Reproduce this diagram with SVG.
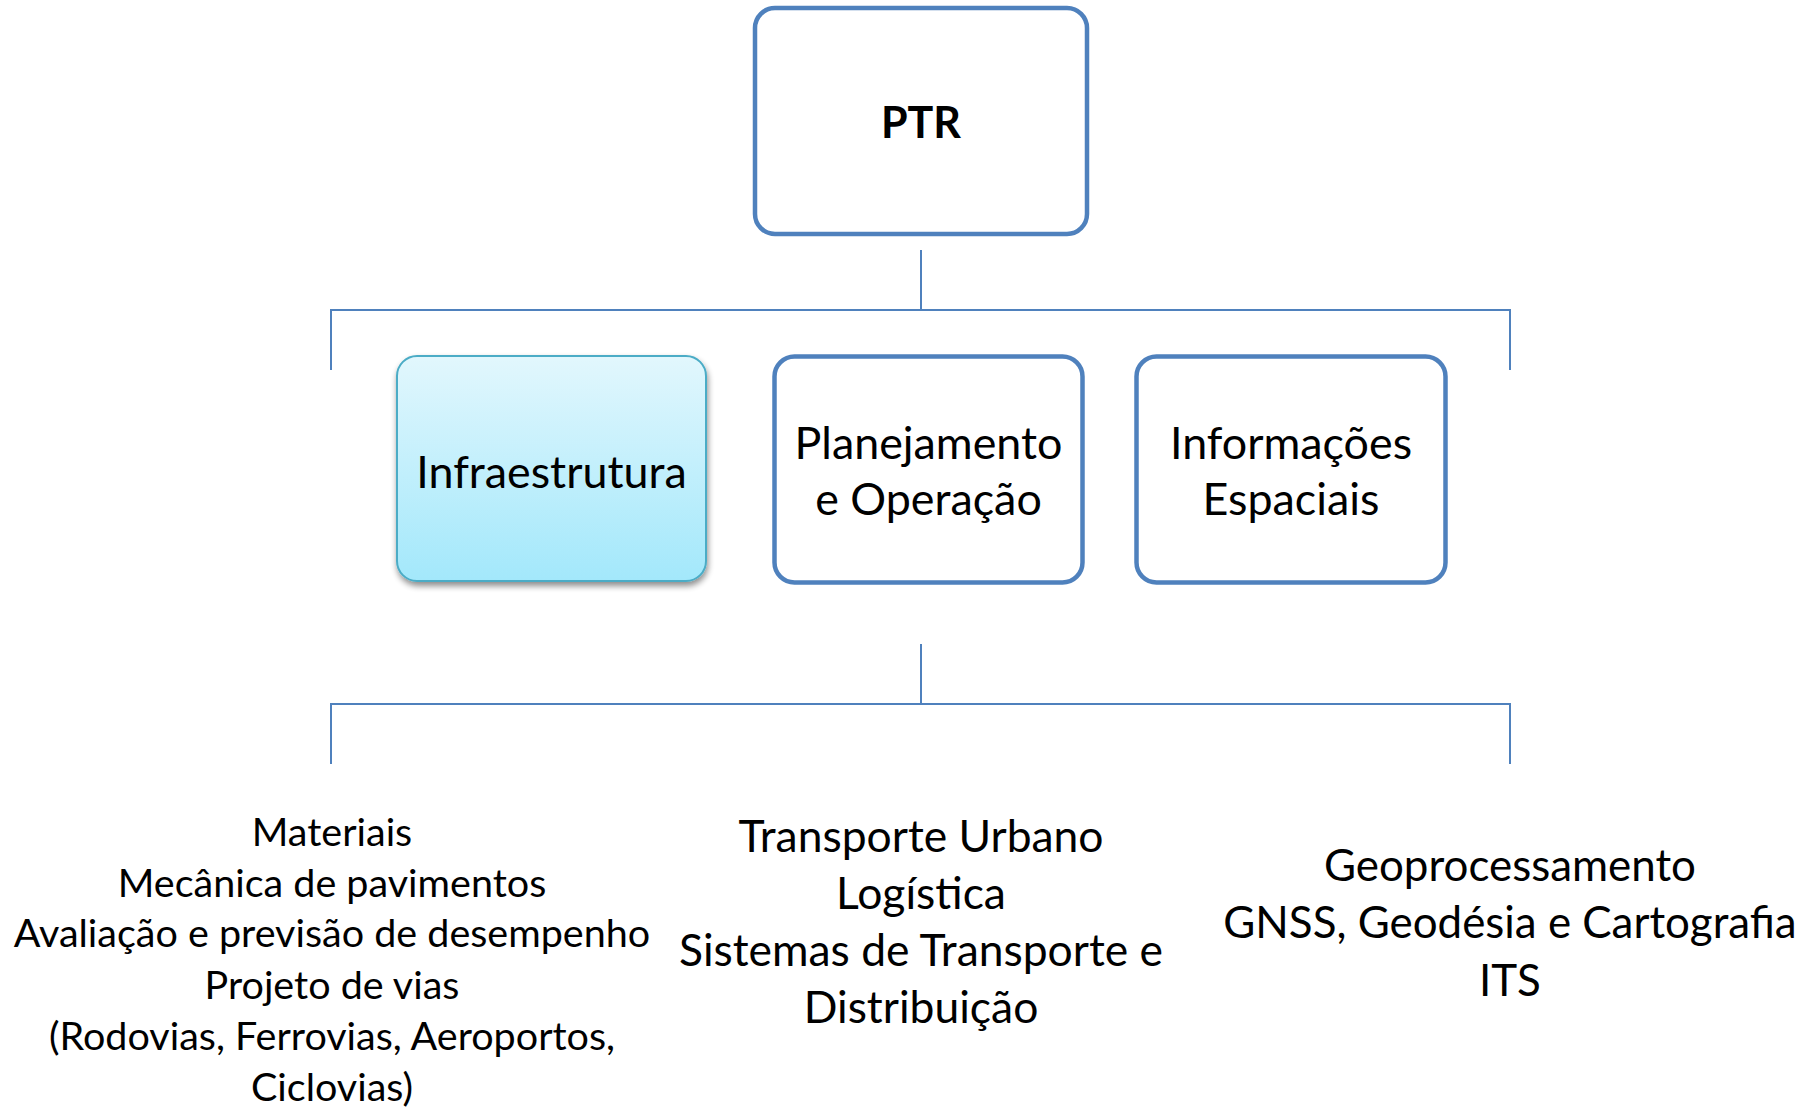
<svg xmlns="http://www.w3.org/2000/svg" width="1812" height="1109" viewBox="0 0 1812 1109">
  <defs>
    <linearGradient id="gInfra" x1="0" y1="0" x2="0" y2="1">
      <stop offset="0" stop-color="#E2F7FD"/>
      <stop offset="1" stop-color="#A3E8FB"/>
    </linearGradient>
    <filter id="shadow" x="-10%" y="-10%" width="125%" height="130%">
      <feGaussianBlur in="SourceAlpha" stdDeviation="3"/>
      <feOffset dx="1" dy="4" result="b"/>
      <feComponentTransfer><feFuncA type="linear" slope="0.45"/></feComponentTransfer>
      <feMerge><feMergeNode/><feMergeNode in="SourceGraphic"/></feMerge>
    </filter>
  </defs>
  <style>
    .box { fill: #FFFFFF; stroke: #4F81BD; stroke-width: 4.5; }
    .conn { fill: none; stroke: #4F81BD; stroke-width: 2; }
    .t { font-family: Lato, "Open Sans", "Liberation Sans", sans-serif; fill: #000000; text-anchor: middle; }
    .lbl { font-size: 44.8px; }
    .list { font-size: 39.5px; }
    .list2 { font-size: 44.4px; }
    .list3 { font-size: 43.9px; }
  </style>
  <rect width="1812" height="1109" fill="#FFFFFF"/>

  <g id="connectors">
    <path class="conn" d="M921,250 V310 M331,370 V310 H1510 V370"/>
    <path class="conn" d="M921,644 V704 M331,764 V704 H1510 V764"/>
  </g>

  <g id="node-ptr">
    <rect class="box" x="755" y="8" width="332" height="226" rx="20"/>
    <text class="t" x="921" y="138" font-size="43px" font-weight="bold">PTR</text>
  </g>

  <g id="node-infraestrutura">
    <rect x="397" y="356" width="309" height="225" rx="20" fill="url(#gInfra)" stroke="#4BACC6" stroke-width="2" filter="url(#shadow)"/>
    <text class="t lbl" x="551.5" y="488">Infraestrutura</text>
  </g>

  <g id="node-planejamento">
    <rect class="box" x="774.5" y="356.5" width="308" height="226" rx="20"/>
    <text class="t lbl" x="928.5" y="458.5">Planejamento</text>
    <text class="t lbl" x="928.5" y="514.5">e Operação</text>
  </g>

  <g id="node-informacoes">
    <rect class="box" x="1136.5" y="356.5" width="309" height="226" rx="20"/>
    <text class="t lbl" x="1291" y="458.5">Informações</text>
    <text class="t lbl" x="1291" y="514.5">Espaciais</text>
  </g>

  <g id="node-list-infra">
    <text class="t list" x="332" y="846">Materiais</text>
    <text class="t list" x="332" y="897">Mecânica de pavimentos</text>
    <text class="t list" x="332" y="947">Avaliação e previsão de desempenho</text>
    <text class="t list" x="332" y="999">Projeto de vias</text>
    <text class="t list" x="332" y="1050">(Rodovias, Ferrovias, Aeroportos,</text>
    <text class="t list" x="332" y="1101">Ciclovias)</text>
  </g>

  <g id="node-list-planejamento">
    <text class="t list2" x="921" y="851.5">Transporte Urbano</text>
    <text class="t list2" x="921" y="908.5">Logística</text>
    <text class="t list2" x="921" y="965.5">Sistemas de Transporte e</text>
    <text class="t list2" x="921" y="1022.5">Distribuição</text>
  </g>

  <g id="node-list-informacoes">
    <text class="t list3" x="1510" y="880.5">Geoprocessamento</text>
    <text class="t list3" x="1510" y="937.5">GNSS, Geodésia e Cartografia</text>
    <text class="t list3" x="1510" y="995.5">ITS</text>
  </g>
</svg>
